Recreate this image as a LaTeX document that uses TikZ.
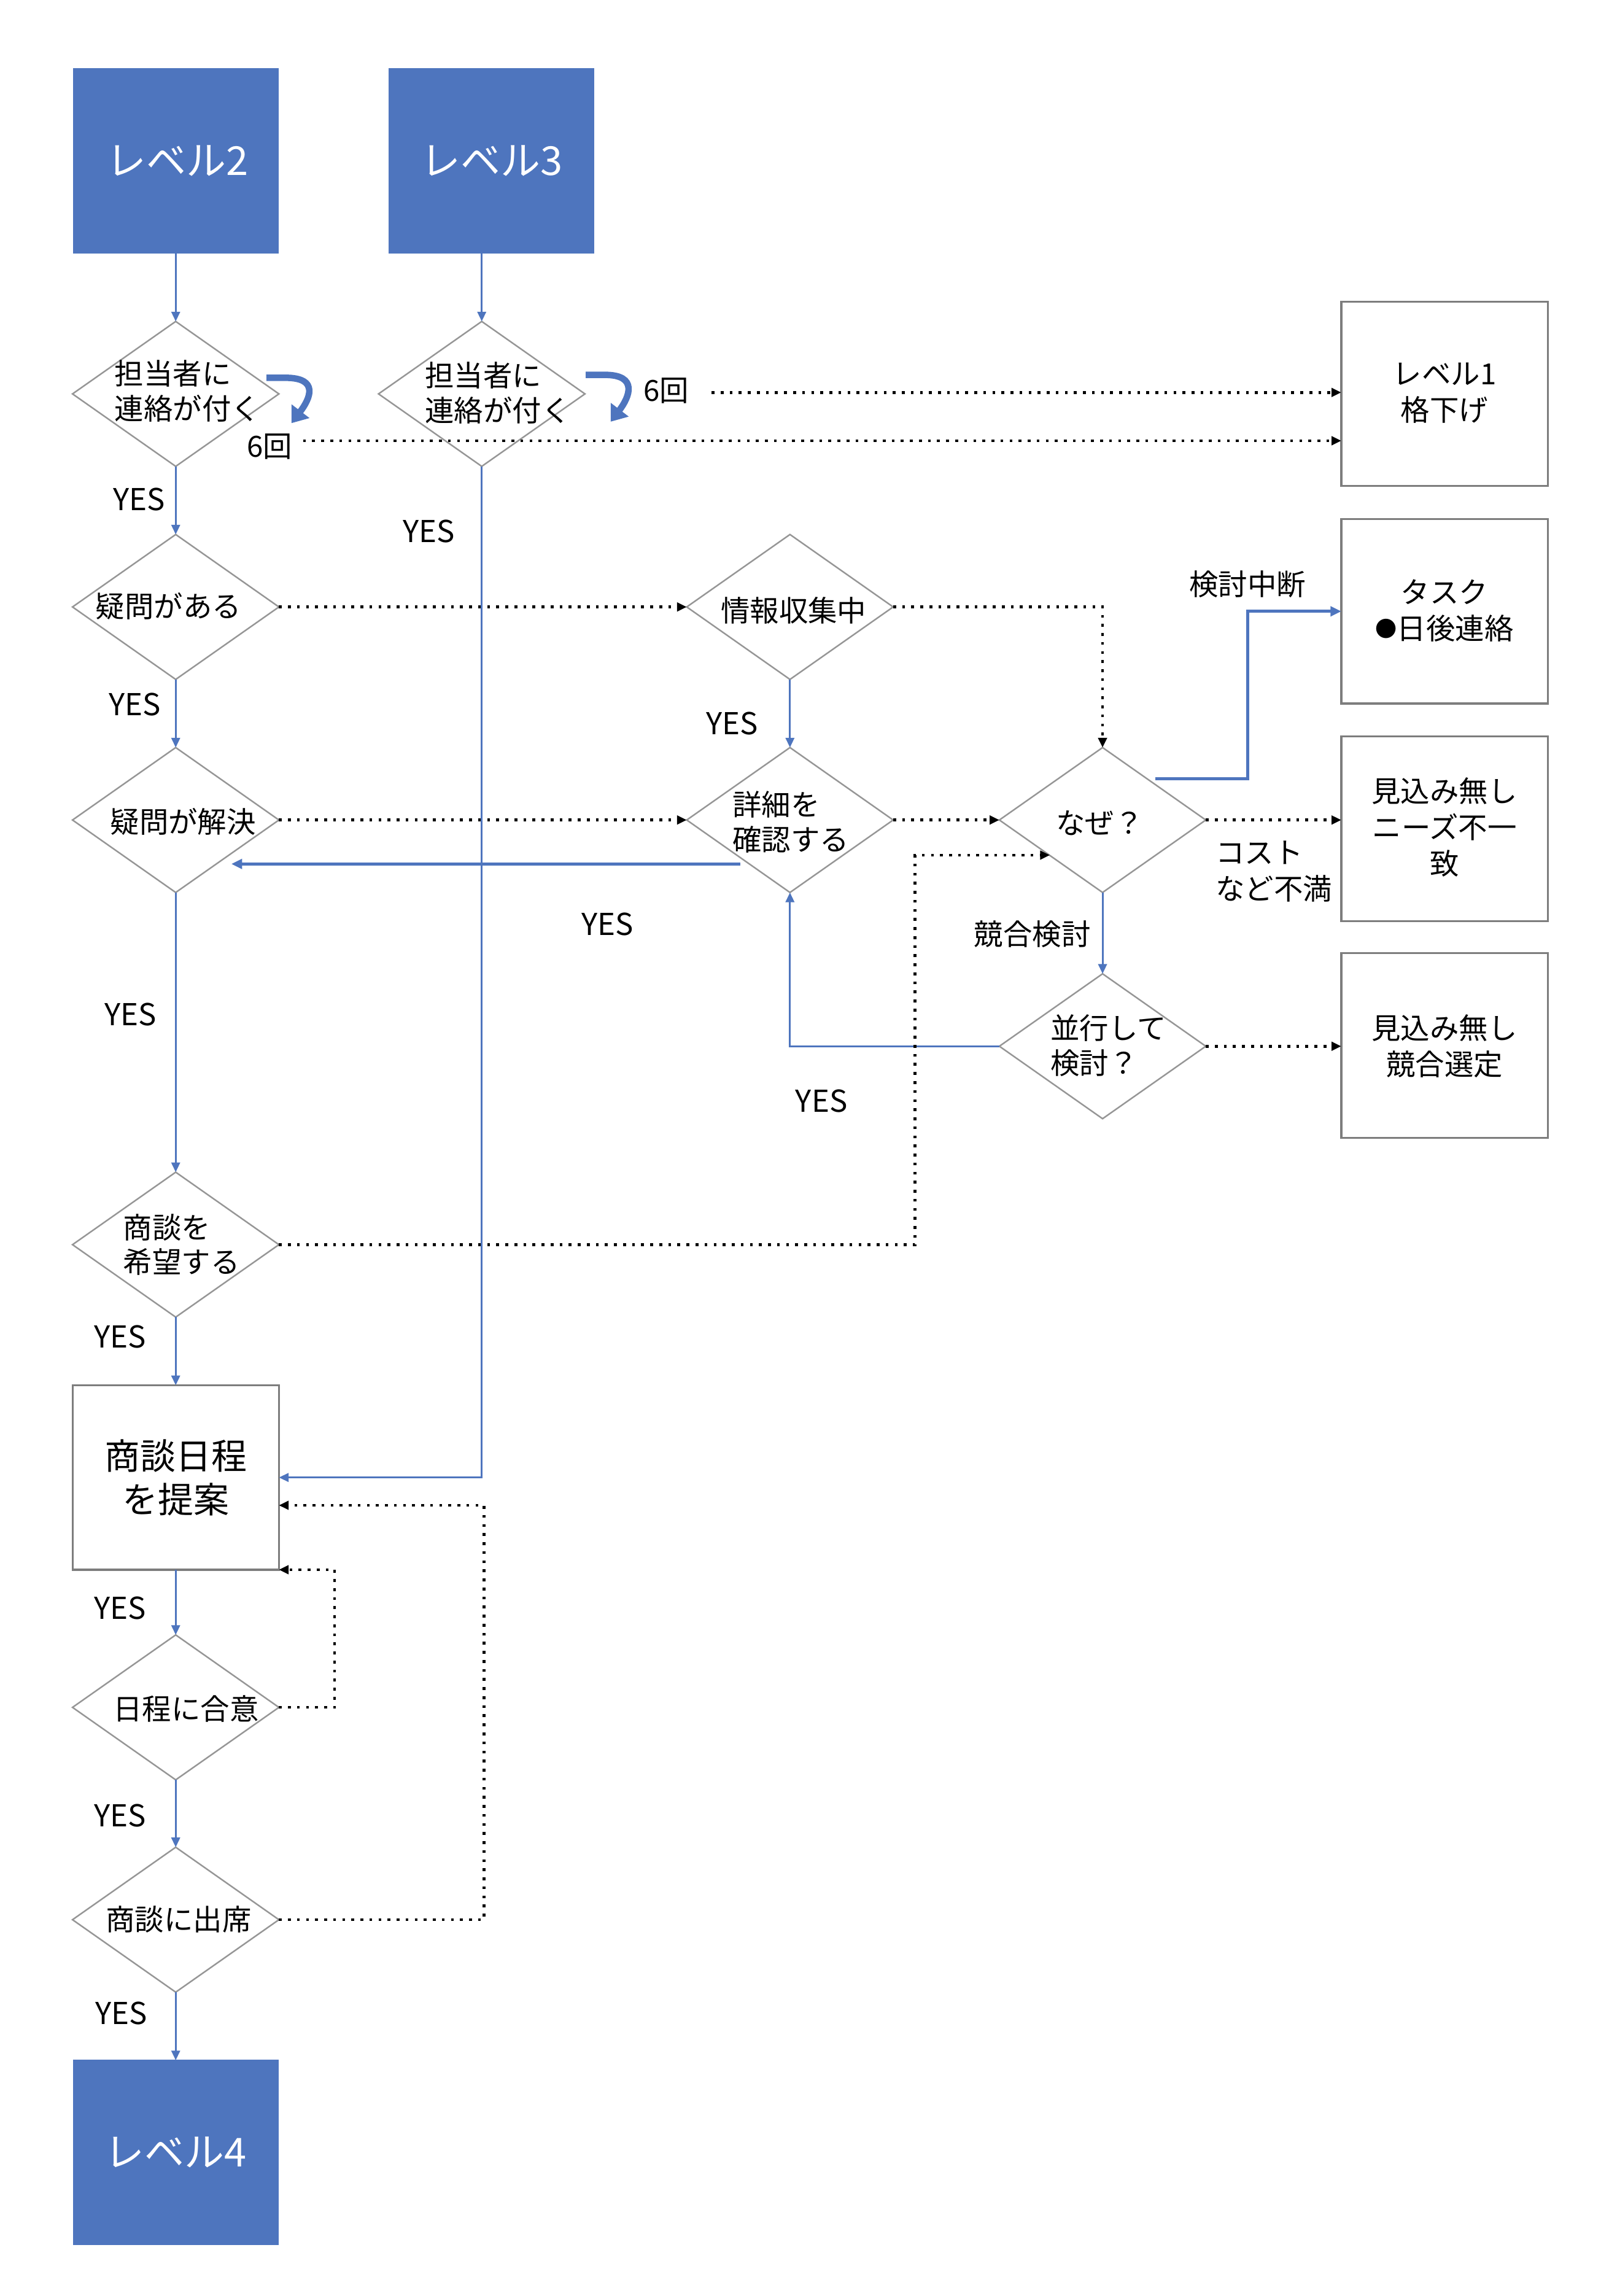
\documentclass[tikz,border=0pt]{standalone}
\usepackage{fontspec}
\setmainfont{Noto Sans CJK JP}
\usetikzlibrary{shapes.geometric,arrows.meta,calc}
\definecolor{lvblue}{RGB}{78,117,190}
\definecolor{diagray}{RGB}{150,150,150}
\definecolor{boxgray}{RGB}{125,125,125}
\tikzset{
  lvbox/.style={rectangle, fill=lvblue, draw=lvblue, minimum width=3.34cm, minimum height=3.006cm, inner sep=0pt, outer sep=0pt, text=white, font=\fontsize{18.5}{22}\selectfont},
  wbox/.style={rectangle, draw=boxgray, line width=0.9pt, minimum width=3.364cm, minimum height=3.006cm, inner sep=0pt, outer sep=0pt},
  btxt/.style={align=center, inner sep=0pt, font=\fontsize{13.5}{16.9}\selectfont},
  dia/.style={diamond, draw=diagray, line width=0.7pt, minimum width=3.364cm, minimum height=2.362cm, inner sep=0pt, outer sep=0pt},
  dtxt/.style={align=left, inner sep=0pt, font=\fontsize{13.5}{16.2}\selectfont},
  lbl/.style={inner sep=0pt, font=\fontsize{13.5}{16.2}\selectfont},
  yes/.style={inner sep=0pt, font=\fontsize{14}{16}\selectfont},
  bl/.style={draw=lvblue, line width=0.9pt, -{Triangle[length=4.5pt,width=4pt]}, lvblue},
  blthick/.style={draw=lvblue, line width=1.4pt, -{Triangle[length=5pt,width=4.5pt]}, lvblue},
  dotarr/.style={draw=black, line width=1.3pt, dash pattern=on 1.3pt off 2.9pt, -{Triangle[length=4.5pt,width=4pt]}},
  uturn/.style={draw=lvblue, line width=3pt, -{Triangle[length=7pt,width=10pt]}}
}
\begin{document}
\begin{tikzpicture}[x=0.02386cm,y=-0.02386cm]
\path[use as bounding box] (0,0) rectangle (1093,1568);

% level boxes
\node[lvbox] (lv2) at (120,110) {};
\node[inner sep=0pt, text=white, font=\fontsize{18.5}{22}\selectfont] (lv2t) at (121,110) {レベル2};
\node[lvbox] (lv3) at (335.5,110) {};
\node[inner sep=0pt, text=white, font=\fontsize{18.5}{22}\selectfont] (lv3t) at (336,110) {レベル3};
\node[lvbox] (lv4) at (120,1470) {};
\node[inner sep=0pt, text=white, font=\fontsize{18.5}{22}\selectfont] (lv4t) at (120,1470) {レベル4};

% white boxes
\node[wbox] (lv1) at (986.5,269) {};
\node[btxt] (lv1t) at (986.5,268.5) {レベル1\\格下げ};
\node[wbox] (task) at (986.5,417.5) {};
\node[btxt] (taskt) at (986.5,417) {タスク\\\raisebox{1.2pt}{\fontsize{10}{10}\selectfont ●}日後連絡};
\node[wbox] (miko1) at (986.5,566) {};
\node[btxt] (miko1t) at (986.5,565) {見込み無し\\ニーズ不一\\致};
\node[wbox] (miko2) at (986.5,714) {};
\node[btxt] (miko2t) at (986.5,714.5) {見込み無し\\競合選定};
\node[wbox] (teian) at (120,1009) {};
\node[align=center, inner sep=0pt, font=\fontsize{16.5}{20.3}\selectfont] (teiant) at (120,1009) {商談日程\\を提案};

% diamonds
\node[dia] (d1) at (120,269) {};
\node[dtxt] (d1t) at (128,267) {担当者に\\連絡が付く};
\node[dia] (d2) at (329,269) {};
\node[dtxt] (d2t) at (340,268.5) {担当者に\\連絡が付く};
\node[dia] (gimon) at (120,414.5) {};
\node[dtxt] (gimont) at (115,414) {疑問がある};
\node[dia] (joho) at (539.5,414.5) {};
\node[dtxt] (johot) at (542,417) {情報収集中};
\node[dia] (kaiketsu) at (120,560) {};
\node[dtxt] (kaiketsut) at (125,561) {疑問が解決};
\node[dia] (shosai) at (539.5,560) {};
\node[dtxt] (shosait) at (540,561.5) {詳細を\\確認する};
\node[dia] (naze) at (753,560) {};
\node[dtxt] (nazet) at (751,562) {なぜ？};
\node[dia] (heiko) at (753,714.5) {};
\node[dtxt] (heikot) at (757,714) {並行して\\検討？};
\node[dia] (kibo) at (120,850) {};
\node[dtxt] (kibot) at (124,850) {商談を\\希望する};
\node[dia] (goi) at (120,1166) {};
\node[dtxt] (goit) at (127,1167) {日程に合意};
\node[dia] (shusseki) at (120,1311) {};
\node[dtxt] (shussekit) at (122,1311) {商談に出席};

% labels
\node[yes] (y1) at (95,341) {YES};
\node[yes] (y2) at (293,363) {YES};
\node[yes] (y3) at (92,481) {YES};
\node[yes] (y4) at (500,494) {YES};
\node[yes] (y5) at (415,631) {YES};
\node[yes] (y6) at (561,752) {YES};
\node[yes] (y7) at (89,693) {YES};
\node[yes] (y8) at (82,913) {YES};
\node[yes] (y9) at (82,1098) {YES};
\node[yes] (y10) at (82,1240) {YES};
\node[yes] (y11) at (83,1375) {YES};
\node[lbl] (k6a) at (184,305) {6回};
\node[lbl] (k6b) at (455,267) {6回};
\node[lbl] (kento) at (852,399) {検討中断};
\node[lbl, align=left, anchor=west, font=\fontsize{13.5}{16.9}\selectfont] (cost) at (830,595) {コスト\\など不満};
\node[lbl] (kyogo) at (705,638) {競合検討};

% u-turn arrows
\draw[uturn] (182,258) -- (195,258) .. controls (218,258) and (212,272) .. (199,289);
\draw[uturn] (400,256) -- (413,256) .. controls (436,256) and (430,271) .. (417,288);

% connectors
\draw[bl] (lv2.south) -- (d1.north);
\draw[bl] (d2.north |- lv3.south) -- (d2.north);
\draw[bl] (d1.south) -- (gimon.north);
\draw[bl] (d2.south) |- (teian.east);
\coordinate (s6b) at (486,268);
\draw[dotarr] (s6b) -- (s6b -| lv1.west);
\coordinate (s6a) at (207,301);
\draw[dotarr] (s6a) -- (s6a -| lv1.west);
\draw[dotarr] (gimon.east) -- (joho.west);
\draw[bl] (joho.south) -- (shosai.north);
\draw[dotarr] (joho.east) -| (naze.north);
\draw[bl] (gimon.south) -- (kaiketsu.north);
\draw[dotarr] (kaiketsu.east) -- (shosai.west);
\draw[blthick] ($(shosai.center)+(-34,30)$) -- ($(kaiketsu.center)+(38,30)$);
\draw[dotarr] (shosai.east) -- (naze.west);
\draw[dotarr] (naze.east) -- (naze.east -| miko1.west);
\draw[blthick] ($(naze.center)+(36,-28)$) -| ($(task.west)+(-64,0)$) -- (task.west);
\draw[bl] (naze.south) -- (heiko.north);
\draw[bl] (heiko.west) -| (shosai.south);
\draw[dotarr] (heiko.east) -- (heiko.east -| miko2.west);
\draw[bl] (kaiketsu.south) -- (kibo.north);
\draw[dotarr] (kibo.east) -| ($(naze.center)+(-128,24)$) -- ($(naze.center)+(-36,24)$);
\draw[bl] (kibo.south) -- (teian.north);
\draw[bl] (teian.south) -- (goi.north);
\draw[dotarr] (goi.east) -| ($(teian.south east)+(38,0)$) -- (teian.south east);
\draw[bl] (goi.south) -- (shusseki.north);
\draw[dotarr] (shusseki.east) -| ($(teian.east)+(140,19)$) -- ($(teian.east)+(0,19)$);
\draw[bl] (shusseki.south) -- (lv4.north);
\end{tikzpicture}
\end{document}
